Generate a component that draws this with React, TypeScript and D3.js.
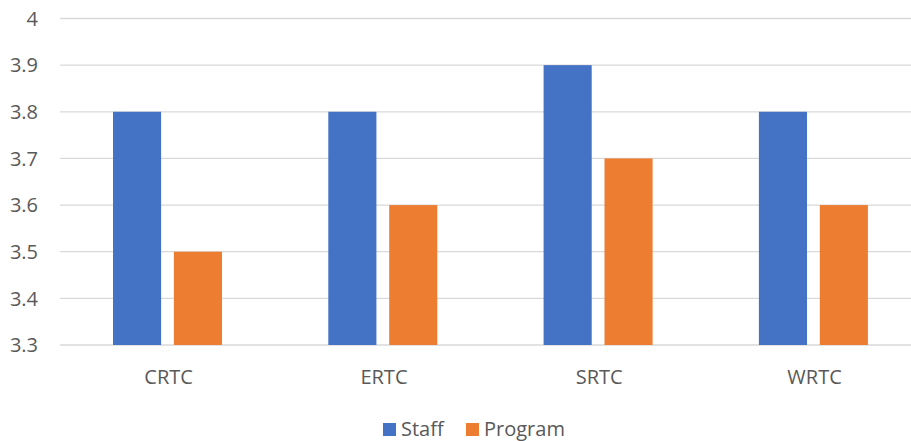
import React from 'react';
import * as d3 from 'd3';

const categories = ['CRTC', 'ERTC', 'SRTC', 'WRTC'];
const staff = [3.8, 3.8, 3.9, 3.8];
const program = [3.5, 3.6, 3.7, 3.6];
const seriesNames = ['Staff', 'Program'];
const colors = ['#4472C4', '#ED7D31'];
const yTicks = [3.3, 3.4, 3.5, 3.6, 3.7, 3.8, 3.9, 4];

const W = 911;
const H = 441;
const font = '"Open Sans", "Noto Sans", sans-serif';
const fs = 20;

export default function App() {
  const x0 = d3.scaleBand().domain(categories).range([60, 60 + 4 * 215.3]);
  const x1 = d3.scaleBand().domain(seriesNames).range([53, 162]).paddingInner(0.21);
  const y = d3.scaleLinear().domain([3.3, 4]).range([345, 18.5]);
  const values = [staff, program];

  return (
    <svg width={W} height={H} style={{ position: 'absolute', left: 0, top: 0 }}>
      <rect width={W} height={H} fill="#fff" />
      {yTicks.map((t) => (
        <g key={t}>
          <line x1={60} x2={W} y1={y(t)} y2={y(t)} stroke="#d9d9d9" strokeWidth={1.3} />
          <text x={38} y={y(t)} dy="0.36em" textAnchor="end" fontFamily={font} fontSize={fs} fill="#595959">
            {d3.format('')(t)}
          </text>
        </g>
      ))}
      {categories.map((c, i) => (
        <g key={c} transform={`translate(${x0(c)},0)`}>
          {seriesNames.map((s, j) => (
            <rect key={s} x={x1(s)} width={x1.bandwidth()} y={y(values[j][i])}
              height={y(3.3) - y(values[j][i])} fill={colors[j]} />
          ))}
          <text x={x0.bandwidth() / 2 + 1} y={384} textAnchor="middle" fontFamily={font} fontSize={fs} fill="#595959">
            {c}
          </text>
        </g>
      ))}
      <g>
        <rect x={383} y={423} width={13} height={13} fill={colors[0]} />
        <text x={401} y={436} fontFamily={font} fontSize={fs} fill="#595959">Staff</text>
        <rect x={466} y={423} width={13} height={13} fill={colors[1]} />
        <text x={484} y={436} fontFamily={font} fontSize={fs} fill="#595959">Program</text>
      </g>
    </svg>
  );
}
